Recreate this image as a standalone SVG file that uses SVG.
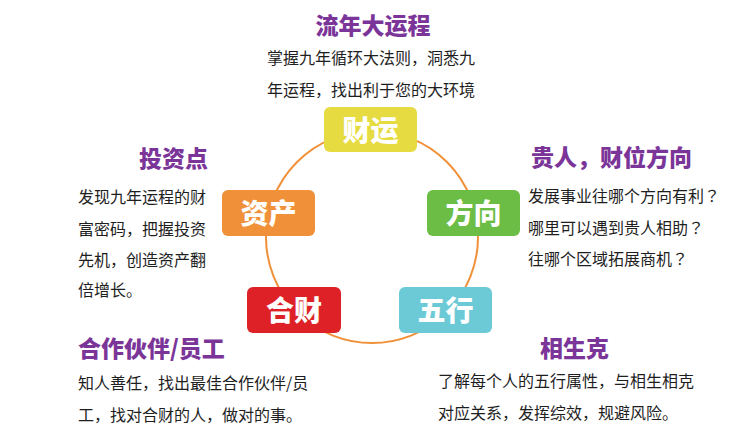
<svg xmlns="http://www.w3.org/2000/svg" width="752" height="437" viewBox="0 0 752 437">
  <style>
    .box { stroke: none; }
    .lbl { font-family: "Noto Sans CJK SC", "Noto Sans", sans-serif; font-size: 28px; font-weight: 900; fill: #ffffff; text-anchor: middle; }
    .ttl { font-family: "Noto Sans CJK SC", "Noto Sans", sans-serif; font-size: 23px; font-weight: 900; fill: #7b3599; }
    .txt { font-family: "Noto Sans CJK SC", "Noto Sans", sans-serif; font-size: 16px; font-weight: 400; fill: #1e1e1e; }
    .q { font-family: "Noto Sans CJK TC", "Noto Sans CJK SC", sans-serif; }
  </style>
  <rect width="752" height="437" fill="#ffffff"/>
  <g id="connectors">
    <circle cx="372" cy="237" r="106" fill="none" stroke="#f0913a" stroke-width="2"/>
  </g>
  <g id="node-caiyun">
    <rect class="box" x="324" y="107" width="93" height="45" rx="6" fill="#e6dc42"/>
    <text class="lbl" x="370.5" y="140.5">财运</text>
    <text class="ttl" x="373" y="34" text-anchor="middle">流年大运程</text>
    <text class="txt" x="267" y="63.5">掌握九年循环大法则，洞悉九</text>
    <text class="txt" x="267" y="95.5">年运程，找出利于您的大环境</text>
  </g>
  <g id="node-zichan">
    <rect class="box" x="222" y="190" width="93" height="46" rx="6" fill="#f0913a"/>
    <text class="lbl" x="268.5" y="223.6">资产</text>
    <text class="ttl" x="208" y="166.5" text-anchor="end">投资点</text>
    <text class="txt" x="78" y="202.5">发现九年运程的财</text>
    <text class="txt" x="78" y="234.5">富密码，把握投资</text>
    <text class="txt" x="78" y="266">先机，创造资产翻</text>
    <text class="txt" x="78" y="296">倍增长。</text>
  </g>
  <g id="node-fangxiang">
    <rect class="box" x="427" y="190" width="93" height="46" rx="6" fill="#6cbd45"/>
    <text class="lbl" x="473.5" y="223.6">方向</text>
    <text class="ttl" x="531" y="165.5">贵人，财位方向</text>
    <text class="txt" x="528" y="202">发展事业往哪个方向有利<tspan class="q">？</tspan></text>
    <text class="txt" x="528" y="233.5">哪里可以遇到贵人相助<tspan class="q">？</tspan></text>
    <text class="txt" x="528" y="265">往哪个区域拓展商机<tspan class="q">？</tspan></text>
  </g>
  <g id="node-hecai">
    <rect class="box" x="247" y="287" width="94" height="46" rx="6" fill="#dd2127"/>
    <text class="lbl" x="294" y="320.6">合财</text>
    <text class="ttl" x="78" y="356.5">合作伙伴/员工</text>
    <text class="txt" x="78" y="389">知人善任，找出最佳合作伙伴/员</text>
    <text class="txt" x="78" y="420.5">工，找对合财的人，做对的事。</text>
  </g>
  <g id="node-wuxing">
    <rect class="box" x="399" y="287" width="93" height="46" rx="6" fill="#6ccad6"/>
    <text class="lbl" x="445.5" y="320.6">五行</text>
    <text class="ttl" x="540" y="356.5">相生克</text>
    <text class="txt" x="438" y="387">了解每个人的五行属性，与相生相克</text>
    <text class="txt" x="438" y="419">对应关系，发挥综效，规避风险。</text>
  </g>
</svg>
